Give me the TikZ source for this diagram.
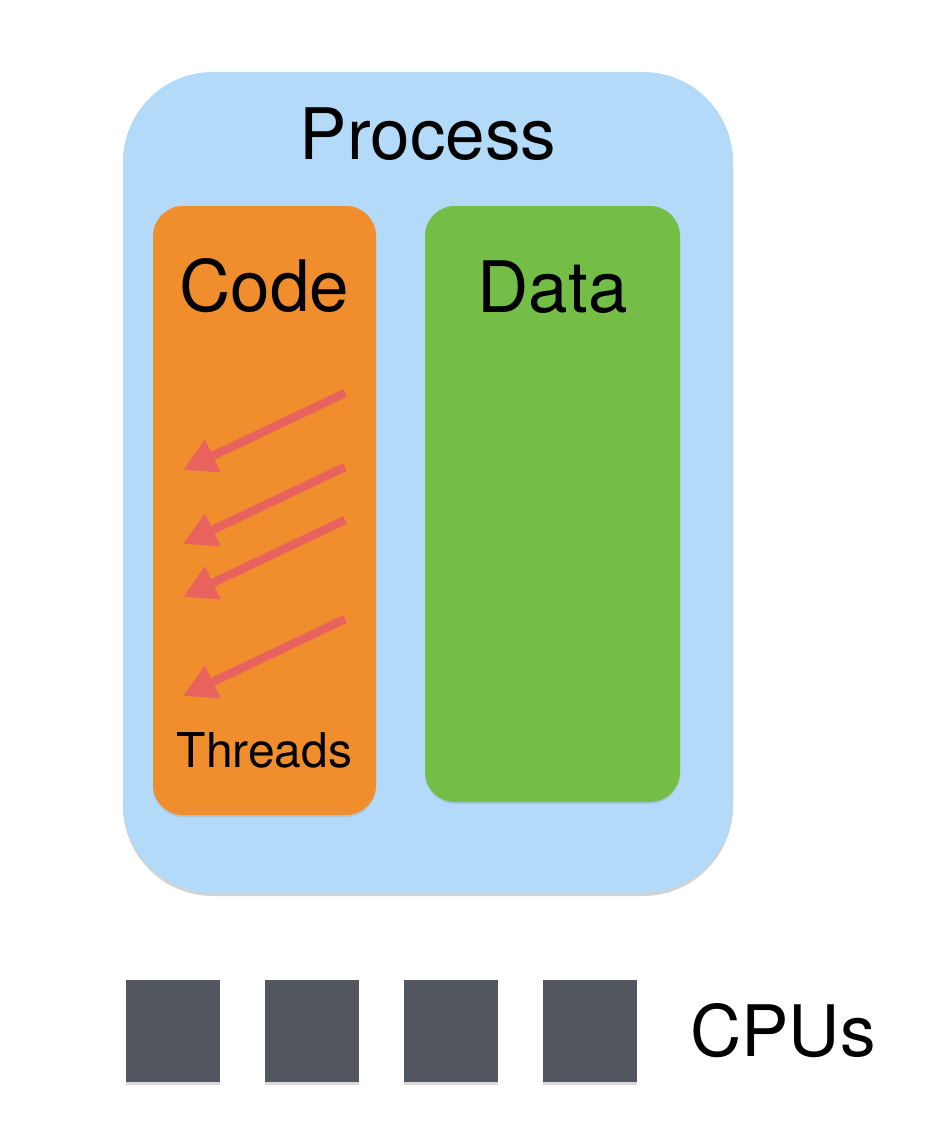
\documentclass[tikz,border=0pt]{standalone}
\usepackage{fontspec}
\setmainfont{TeX Gyre Heros}
\usetikzlibrary{positioning}
\usetikzlibrary{arrows.meta}
\usetikzlibrary{shadows}
\definecolor{processblue}{HTML}{B3DAF8}
\definecolor{codeorange}{HTML}{F08E2E}
\definecolor{datagreen}{HTML}{74BE48}
\definecolor{threadred}{HTML}{E8625E}
\definecolor{cpugray}{HTML}{52565E}
\tikzset{
        boxnode/.style={rectangle, inner sep=0pt, outer sep=0pt},
        % Outer process
        box_process/.style={boxnode, fill=processblue, rounded corners=90pt, minimum width=610pt, minimum height=821pt,
            drop shadow={opacity=0.35, shadow xshift=0pt, shadow yshift=-3pt}},
        % Code and data blocks
        box_code/.style={boxnode, fill=codeorange, rounded corners=30pt, minimum width=223pt, minimum height=609pt,
            drop shadow={opacity=0.2, shadow xshift=0pt, shadow yshift=-2pt}},
        box_data/.style={boxnode, fill=datagreen, rounded corners=30pt, minimum width=255pt, minimum height=596pt,
            drop shadow={opacity=0.2, shadow xshift=0pt, shadow yshift=-2pt}},
        % CPUs
        node_cpu/.style={boxnode, fill=cpugray, minimum width=94pt, minimum height=102pt,
            drop shadow={opacity=0.3, shadow xshift=0pt, shadow yshift=-3pt}},
        % Labels
        label_big/.style={inner sep=0pt, font=\fontsize{71}{85}\selectfont},
        label_small/.style={inner sep=0pt, font=\fontsize{48}{56}\selectfont},
        % Thread arrows
        arrow_thread/.style={threadred, line width=8.5pt, -{Triangle[length=33pt,width=34pt]}}
}
\begin{document}
\begin{tikzpicture}[x=1pt, y=-1pt]
    \useasboundingbox (0,0) rectangle (936,1138);
    \node[box_process] (process) at (428,482.5) {};
    \node[box_code] (code) at (264.5,510.5) {};
    \node[box_data] (data) at (552.5,504) {};
    \node[label_big] (processlabel) at (428,134) {Process};
    \node[label_big] (codelabel) at (264.5,286) {Code};
    \node[label_big] (datalabel) at (552.5,287) {Data};
    \node[label_small] (threadslabel) at (264.5,750) {Threads};
    % threads
    \foreach \i/\y in {1/393, 2/467, 3/520, 4/619} {
        \coordinate (t\i s) at (345,\y);
        \coordinate (t\i e) at (183,\y+77);
        \draw[arrow_thread] (t\i s) -- (t\i e);
    }
    % cpus
    \node[node_cpu] (cpu1) at (172.5,1031) {};
    \node[node_cpu, right=45pt of cpu1] (cpu2) {};
    \node[node_cpu, right=45pt of cpu2] (cpu3) {};
    \node[node_cpu, right=45pt of cpu3] (cpu4) {};
    \node[label_big, anchor=west] (cpulabel) at (690,1031) {CPUs};
\end{tikzpicture}
\end{document}
